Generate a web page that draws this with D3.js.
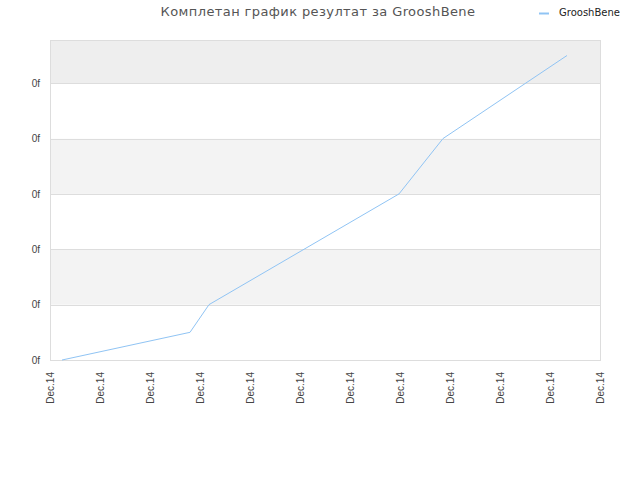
<!DOCTYPE html>
<html>
<head>
<meta charset="utf-8">
<script src="https://cdn.jsdelivr.net/npm/d3@7"></script>
<style>
  body { margin: 0; background: #fff; }
  svg { font-family: "DejaVu Sans", sans-serif; }
</style>
</head>
<body>
<div id="chart"></div>
<script>
'use strict';

// x tick labels (all on the same day)
var xLabels = ['Dec.14', 'Dec.14', 'Dec.14', 'Dec.14', 'Dec.14', 'Dec.14',
               'Dec.14', 'Dec.14', 'Dec.14', 'Dec.14', 'Dec.14', 'Dec.14'];
var yLabels = ['0f', '0f', '0f', '0f', '0f', '0f'];

// series position along x (in tick units) and values
var seriesX = [0.24, 2.8, 3.18, 6.98, 7.86, 10.34];
var seriesY = [0, 0.5, 1, 3, 4, 5.5];
var seriesName = 'GrooshBene';

var w = 640;
var h = 480;
var plotLeft = 50, plotRight = 600, plotTop = 40, plotBottom = 360;

var svg = d3.select('#chart').append('svg')
            .attr('width', w)
            .attr('height', h);

var x = d3.scaleLinear().domain([0, xLabels.length - 1]).range([plotLeft, plotRight]);
var y = d3.scaleLinear().domain([0, 5.78]).range([plotBottom, plotTop]);

// background bands
var bands = d3.range(0, 6).map(function(i) {
  return { y0: i, y1: Math.min(i + 1, 5.78), i: i };
});
svg.selectAll('rect.band').data(bands).enter()
   .append('rect')
   .attr('class', 'band')
   .attr('x', plotLeft)
   .attr('width', plotRight - plotLeft)
   .attr('y', function(d) { return y(d.y1); })
   .attr('height', function(d) { return y(d.y0) - y(d.y1); })
   .attr('fill', function(d) {
     if (d.i === 5) return '#eeeeee';
     return d.i % 2 === 1 ? '#f3f3f3' : '#ffffff';
   });

// grid lines
svg.selectAll('line.grid').data(d3.range(0, 6)).enter()
   .append('line')
   .attr('x1', plotLeft).attr('x2', plotRight)
   .attr('y1', function(d) { return Math.round(y(d)) + 0.5; })
   .attr('y2', function(d) { return Math.round(y(d)) + 0.5; })
   .attr('stroke', '#dddddd');

// plot border
svg.append('rect')
   .attr('x', plotLeft + 0.5).attr('y', plotTop + 0.5)
   .attr('width', plotRight - plotLeft).attr('height', plotBottom - plotTop)
   .attr('fill', 'none')
   .attr('stroke', '#dddddd');

// y axis labels
var yAxis = d3.axisLeft(y)
              .tickValues(d3.range(0, yLabels.length))
              .tickFormat(function(d, i) { return yLabels[i]; })
              .tickSize(0)
              .tickPadding(10);
var gy = svg.append('g').attr('transform', 'translate(' + plotLeft + ',0)').call(yAxis);
gy.select('.domain').remove();
gy.selectAll('text').attr('fill', '#444').style('font-size', '10px');

// x axis labels
var xAxis = d3.axisBottom(x)
              .tickValues(d3.range(0, xLabels.length))
              .tickFormat(function(d, i) { return xLabels[i]; })
              .tickSize(0);
var gx = svg.append('g').attr('transform', 'translate(0,' + plotBottom + ')').call(xAxis);
gx.select('.domain').remove();
gx.selectAll('text')
  .attr('fill', '#444')
  .style('font-size', '10px')
  .attr('text-anchor', 'end')
  .attr('transform', 'rotate(-90)')
  .attr('x', -12)
  .attr('y', 0)
  .attr('dy', '0.35em');

// series line
var pts = seriesX.map(function(d, i) { return [d, seriesY[i]]; });
var line = d3.line()
             .x(function(d) { return x(d[0]); })
             .y(function(d) { return y(d[1]); });
svg.append('path')
   .datum(pts)
   .attr('d', line)
   .attr('fill', 'none')
   .attr('stroke', '#90c4f4')
   .attr('stroke-width', 1);

// title
svg.append('text')
   .attr('x', 318).attr('y', 16)
   .attr('text-anchor', 'middle')
   .attr('fill', '#555')
   .style('font-size', '13px')
   .style('letter-spacing', '0.4px')
   .text('Комплетан график резултат за GrooshBene');

// legend
svg.append('line')
   .attr('x1', 539).attr('x2', 549)
   .attr('y1', 13.5).attr('y2', 13.5)
   .attr('stroke', '#90c4f4').attr('stroke-width', 2);
svg.append('text')
   .attr('x', 559).attr('y', 16)
   .attr('fill', '#222')
   .style('font-size', '10px')
   .text(seriesName);
</script>
</body>
</html>
